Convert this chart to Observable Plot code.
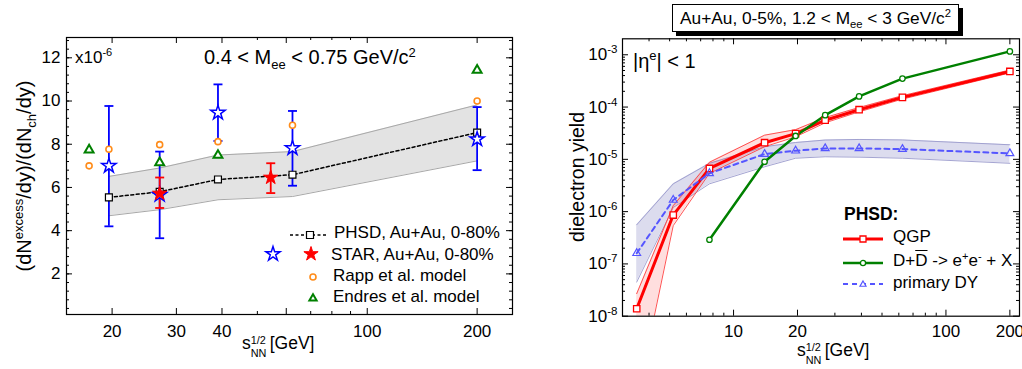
<!DOCTYPE html>
<html><head><meta charset="utf-8">
<script src="https://cdn.jsdelivr.net/npm/d3@7"></script>
<script src="https://cdn.jsdelivr.net/npm/@observablehq/plot@0.6"></script>
<style>
body{margin:0;background:#fff;}
#root{position:relative;width:1022px;height:369px;overflow:hidden;font-family:"Liberation Sans",Arial,sans-serif;color:#000;background:#fff;}
.pl{position:absolute;top:0;}
.t{position:absolute;white-space:nowrap;line-height:1;}
.sup{font-size:0.65em;position:relative;top:-0.6em;}
.sub{font-size:0.65em;position:relative;top:0.35em;}
.stk{display:inline-block;position:relative;width:1.3em;height:1em;font-size:0.62em;}
.stk span{position:absolute;left:0;line-height:1;}
.sw{position:absolute;overflow:visible;}
</style></head><body><div id="root"></div>
<script>
// ---------------- Left panel data ----------------
const leftEnergy   = [19.6, 27, 39, 62.4, 200];
const phsdYield    = [5.54, 5.8, 6.37, 6.59, 8.54];
const phsdLow      = [4.69, 4.97, 5.43, 5.58, 7.23];
const phsdHigh     = [6.51, 6.9, 7.5, 7.66, 9.82];
const starBesYield = [7.0, 5.66, 9.46, 7.82, 8.23];
const starBesLow   = [4.2, 3.65, 8.15, 6.08, 6.8];
const starBesHigh  = [9.77, 7.66, 10.77, 9.54, 9.72];
const starNewEnergy = [27, 54.4];
const starNewYield  = [5.72, 6.46];
const starNewLow    = [5.05, 5.74];
const starNewHigh   = [6.46, 7.12];
const rappEnergy   = [17.3, 19.6, 27, 39, 62.4, 200];
const rappYield    = [7.0, 7.77, 7.98, 8.12, 8.88, 10.0];
const endresEnergy = [17.3, 27, 39, 200];
const endresYield  = [7.74, 7.15, 7.49, 11.43];
const leftXTicks   = [20, 30, 40, 60, 100, 200];
const leftXMinor   = [50, 70, 80, 90];
const leftYTicks   = [2, 4, 6, 8, 10, 12];

// ---------------- Right panel data ----------------
const rightEnergy = [3.5, 5.2, 7.7, 14, 19.6, 27, 39, 62.4, 200];
const qgpYield = [1.39e-8, 8.6e-7, 6.7e-6, 2.08e-5, 3.1e-5, 5.6e-5, 8.9e-5, 1.53e-4, 4.8e-4];
const qgpHigh  = [2.7e-8, 1.3e-6, 8.8e-6, 2.9e-5, 3.7e-5, 6.3e-5, 9.8e-5, 1.65e-4, 5.1e-4];
const qgpLow   = [2.5e-10, 5.4e-7, 5.4e-6, 1.74e-5, 2.7e-5, 5.0e-5, 8.1e-5, 1.42e-4, 4.5e-4];
const dyYield  = [1.6e-7, 1.67e-6, 5.4e-6, 1.26e-5, 1.46e-5, 1.62e-5, 1.62e-5, 1.57e-5, 1.3e-5];
const dyHigh   = [5.6e-7, 3.4e-6, 8.4e-6, 1.74e-5, 2.1e-5, 2.34e-5, 2.4e-5, 2.35e-5, 1.9e-5];
const dyLow    = [4.5e-8, 1.2e-6, 3.4e-6, 7.2e-6, 1.05e-5, 1.12e-5, 1.1e-5, 1.05e-5, 8.4e-6];
const charmEnergy = [7.7, 14, 19.6, 27, 39, 62.4, 200];
const charmYield  = [2.9e-7, 9.0e-6, 2.8e-5, 7.0e-5, 1.6e-4, 3.5e-4, 1.16e-3];
const rightXTicks = [10, 20, 100, 200];
const rightXMinor = [4, 5, 6, 7, 8, 9, 30, 40, 50, 60, 70, 80, 90];
const rightYTicks = [1e-8, 1e-7, 1e-6, 1e-5, 1e-4, 1e-3];

// ---------------- helpers ----------------
const root = document.getElementById("root");
const FONT = "Liberation Sans, Arial, sans-serif";
const cap = {draw(ctx){ ctx.moveTo(-4.5, 0); ctx.lineTo(4.5, 0); }};
function text(html, left, top, size, extra = "") {
  const d = document.createElement("div");
  d.className = "t";
  d.style.cssText = `left:${left}px;top:${top}px;font-size:${size}px;${extra}`;
  d.innerHTML = html;
  root.appendChild(d);
  return d;
}
function swatch(svgInner, left, top, w, h) {
  const d = document.createElement("div");
  d.className = "sw";
  d.style.cssText = `left:${left}px;top:${top}px;width:${w}px;height:${h}px;`;
  d.innerHTML = `<svg width="${w}" height="${h}" style="overflow:visible">${svgInner}</svg>`;
  root.appendChild(d);
}
function ticksXY(IW, IH, xMajor, xMinor, yMajor, yMinor, L = 6, l = 3) {
  const st = {stroke: "#000", strokeWidth: 1};
  return [
    Plot.tickX(xMajor, {...st, insetTop: IH - L}),
    Plot.tickX(xMajor, {...st, insetBottom: IH - L}),
    Plot.tickX(xMinor, {...st, insetTop: IH - l}),
    Plot.tickX(xMinor, {...st, insetBottom: IH - l}),
    Plot.tickY(yMajor, {...st, insetRight: IW - L}),
    Plot.tickY(yMajor, {...st, insetLeft: IW - L}),
    Plot.tickY(yMinor, {...st, insetRight: IW - l}),
    Plot.tickY(yMinor, {...st, insetLeft: IW - l})
  ];
}

// ---------------- Left panel ----------------
const LW = 520, LH = 369, LML = 66, LMR = 8, LMT = 37, LMB = 55;
const phsd = leftEnergy.map((e, i) => ({e, y: phsdYield[i], lo: phsdLow[i], hi: phsdHigh[i]}));
const bes = leftEnergy.map((e, i) => ({e, y: starBesYield[i], lo: starBesLow[i], hi: starBesHigh[i]}));
const starNew = starNewEnergy.map((e, i) => ({e, y: starNewYield[i], lo: starNewLow[i], hi: starNewHigh[i]}));
const rapp = rappEnergy.map((e, i) => ({e, y: rappYield[i]}));
const endres = endresEnergy.map((e, i) => ({e, y: endresYield[i]}));
const leftYMinor = d3.range(0.4, 12.9, 0.4);

const left = Plot.plot({
  width: LW, height: LH, marginLeft: LML, marginRight: LMR, marginTop: LMT, marginBottom: LMB,
  style: {fontFamily: FONT, fontSize: "17px", background: "transparent", overflow: "visible"},
  x: {type: "log", domain: [15, 250]},
  y: {domain: [0.12, 12.94]},
  marks: [
    Plot.areaY(phsd, {x: "e", y1: "lo", y2: "hi", fill: "#e3e3e3"}),
    Plot.line(phsd, {x: "e", y: "lo", stroke: "#a8a8a8", strokeWidth: 1}),
    Plot.line(phsd, {x: "e", y: "hi", stroke: "#a8a8a8", strokeWidth: 1}),
    Plot.line(phsd, {x: "e", y: "y", stroke: "#000", strokeWidth: 1.5, strokeDasharray: "3,2.5"}),
    Plot.ruleX(bes, {x: "e", y1: "lo", y2: "hi", stroke: "#0000ff", strokeWidth: 1.8}),
    Plot.dot(bes, {x: "e", y: "lo", symbol: cap, fill: "none", stroke: "#0000ff", strokeWidth: 1.8}),
    Plot.dot(bes, {x: "e", y: "hi", symbol: cap, fill: "none", stroke: "#0000ff", strokeWidth: 1.8}),
    Plot.ruleX(starNew, {x: "e", y1: "lo", y2: "hi", stroke: "#ff0000", strokeWidth: 1.8}),
    Plot.dot(starNew, {x: "e", y: "lo", symbol: cap, fill: "none", stroke: "#ff0000", strokeWidth: 1.8}),
    Plot.dot(starNew, {x: "e", y: "hi", symbol: cap, fill: "none", stroke: "#ff0000", strokeWidth: 1.8}),
    Plot.dot(phsd, {x: "e", y: "y", symbol: "square", r: 3.9, fill: "#fff", stroke: "#000", strokeWidth: 1.2}),
    Plot.dot(rapp, {x: "e", y: "y", symbol: "circle", r: 3, fill: "#fff", stroke: "#ff8c1a", strokeWidth: 1.6}),
    Plot.dot(endres, {x: "e", y: "y", symbol: "triangle", r: 3.3, fill: "#fff", stroke: "#008000", strokeWidth: 2}),
    Plot.dot(bes, {x: "e", y: "y", symbol: "star", r: 4.5, fill: "#fff", stroke: "#0000ff", strokeWidth: 1.5}),
    Plot.dot(starNew, {x: "e", y: "y", symbol: "star", r: 4.5, fill: "#ff0000", stroke: "#ff0000", strokeWidth: 1}),
    ...ticksXY(LW - LML - LMR, LH - LMT - LMB, leftXTicks, leftXMinor, leftYTicks, leftYMinor, 6, 3),
    Plot.axisX(leftXTicks, {anchor: "bottom", tickSize: 0, tickPadding: 10, label: null, tickFormat: d => String(d)}),
    Plot.axisY(leftYTicks, {anchor: "left", tickSize: 0, tickPadding: 6, label: null, tickFormat: d => String(d)}),
    Plot.frame({stroke: "#000", strokeWidth: 1.2})
  ]
});
const ld = document.createElement("div"); ld.className = "pl"; ld.style.left = "0px"; ld.appendChild(left); root.appendChild(ld);

// ---------------- Right panel ----------------
const RX = 520, RW = 502, RH = 369, RML = 102, RMR = 3, RMT = 38.3, RMB = 53.3;
const qgp = rightEnergy.map((e, i) => ({e, y: qgpYield[i], lo: qgpLow[i], hi: qgpHigh[i]}));
const dy = rightEnergy.map((e, i) => ({e, y: dyYield[i], lo: dyLow[i], hi: dyHigh[i]}));
const charm = charmEnergy.map((e, i) => ({e, y: charmYield[i]}));
const rightYMinor = [];
for (const dec of rightYTicks.slice(0, 5)) for (let k = 2; k <= 9; k++) rightYMinor.push(k * dec);

const right = Plot.plot({
  width: RW, height: RH, marginLeft: RML, marginRight: RMR, marginTop: RMT, marginBottom: RMB,
  style: {fontFamily: FONT, fontSize: "17px", background: "transparent", overflow: "visible"},
  x: {type: "log", domain: [3, 222]},
  y: {type: "log", domain: [1e-8, 2.02e-3]},
  marks: [
    Plot.areaY(dy, {x: "e", y1: "lo", y2: "hi", fill: "#dcdcee", clip: true}),
    Plot.line(dy, {x: "e", y: "lo", stroke: "#9a9acc", strokeWidth: 0.9, clip: true}),
    Plot.line(dy, {x: "e", y: "hi", stroke: "#9a9acc", strokeWidth: 0.9, clip: true}),
    Plot.areaY(qgp, {x: "e", y1: "lo", y2: "hi", fill: "#ff0000", fillOpacity: 0.13, clip: true}),
    Plot.line(qgp, {x: "e", y: "lo", stroke: "#ff4040", strokeWidth: 0.9, clip: true}),
    Plot.line(qgp, {x: "e", y: "hi", stroke: "#ff4040", strokeWidth: 0.9, clip: true}),
    Plot.line(qgp, {x: "e", y: "y", stroke: "#ff0000", strokeWidth: 3, clip: true}),
    Plot.line(dy, {x: "e", y: "y", stroke: "#5555ff", strokeWidth: 2, strokeDasharray: "5,4", clip: true}),
    Plot.line(charm, {x: "e", y: "y", stroke: "#008000", strokeWidth: 2.5, clip: true}),
    Plot.dot(qgp, {x: "e", y: "y", symbol: "square", r: 3.6, fill: "#fff", stroke: "#ff0000", strokeWidth: 1.3}),
    Plot.dot(dy, {x: "e", y: "y", symbol: "triangle", r: 2.9, fill: "none", stroke: "#5555ff", strokeWidth: 1.2}),
    Plot.dot(charm, {x: "e", y: "y", symbol: "circle", r: 2.7, fill: "#fff", stroke: "#008000", strokeWidth: 1.3}),
    ...ticksXY(RW - RML - RMR, RH - RMT - RMB, rightXTicks, rightXMinor, rightYTicks, rightYMinor, 6, 3),
    Plot.axisX(rightXTicks, {anchor: "bottom", tickSize: 0, tickPadding: 9, label: null, tickFormat: d => String(d)}),
    Plot.axisY(rightYTicks, {anchor: "left", tickSize: 0, tickPadding: 5, label: null, tickFormat: d => "10^" + Math.round(Math.log10(d))}),
    Plot.frame({stroke: "#000", strokeWidth: 1.2})
  ]
});
d3.select(right).selectAll("text").each(function () {
  const m = this.textContent.match(/^10\^(-?\d+)$/);
  if (m) {
    const s = d3.select(this);
    s.text("10");
    s.append("tspan").attr("dy", "-0.6em").attr("font-size", "0.68em").text(m[1]);
  }
});
const rd = document.createElement("div"); rd.className = "pl"; rd.style.left = RX + "px"; rd.appendChild(right); root.appendChild(rd);

// ---------------- Left panel texts ----------------
const F = 17;
text(`x10<span class="sup">-6</span>`, 75, 63.3 - 0.85 * F, F);
text(`0.4 &lt; M<span class="sub">ee</span> &lt; 0.75 GeV/c<span class="sup">2</span>`, 204, 64.3 - 0.85 * 20, 20);
text(`(dN<span class="sup">excess</span>/dy)/(dN<span class="sub">ch</span>/dy)`, 24, 176, 20,
  "transform:translate(-50%,-50%) rotate(-90deg);");
text(`s<span class="stk"><span style="top:-0.3em">1/2</span><span style="top:0.85em">NN</span></span> [GeV]`, 242, 350 - 0.85 * 17.5, 17.5);

// left legend
const starPath = d3.symbol(d3.symbolStar, 63)();
const sqPath = d3.symbol(d3.symbolSquare, 49)();
const triPath = d3.symbol(d3.symbolTriangle2, 38)();
swatch(`<line x1="0" y1="6" x2="37" y2="6" stroke="#000" stroke-width="1.5" stroke-dasharray="3,2.5"/><path d="${sqPath}" transform="translate(20,6)" fill="#fff" stroke="#000" stroke-width="1.2"/>`, 290, 232.7 - 6, 40, 12);
swatch(`<path d="${starPath}" transform="translate(8,8)" fill="#fff" stroke="#0000ff" stroke-width="1.5"/>`, 273 - 8, 254 - 8, 16, 16);
swatch(`<path d="${starPath}" transform="translate(8,8)" fill="#ff0000" stroke="#ff0000"/>`, 311 - 8, 254 - 8, 16, 16);
swatch(`<circle cx="6" cy="6" r="3" fill="#fff" stroke="#ff8c1a" stroke-width="1.6"/>`, 313 - 6, 275 - 6, 12, 12);
swatch(`<path d="${triPath}" transform="translate(6,6.5)" fill="#fff" stroke="#008000" stroke-width="2"/>`, 313 - 6, 296 - 6, 12, 12);
text(`PHSD, Au+Au, 0-80%`, 334, 232.7 - 0.49 * F, F);
text(`STAR, Au+Au, 0-80%`, 331, 254 - 0.49 * F, F);
text(`Rapp et al. model`, 333, 275 - 0.49 * F, F);
text(`Endres et al. model`, 333, 296 - 0.49 * F, F);

// ---------------- Right panel texts ----------------
text(`Au+Au, 0-5%, 1.2 &lt; M<span class="sub">ee</span> &lt; 3 GeV/c<span class="sup">2</span>`, 672, 4, 17.3,
  "width:287px;height:28px;box-sizing:border-box;border:1px solid #000;box-shadow:4px 4px 0 #000;background:#fff;text-align:center;line-height:26px;");
text(`|&eta;<span class="sup">e</span>| &lt; 1`, 633, 68 - 0.85 * 20, 20);
text(`dielectron yield`, 578, 177, 19.5, "transform:translate(-50%,-50%) rotate(-90deg);");
text(`s<span class="stk"><span style="top:-0.3em">1/2</span><span style="top:0.85em">NN</span></span> [GeV]`, 797, 357 - 0.85 * 17.5, 17.5);

const RF = 17;
text(`PHSD:`, 844, 214 - 0.49 * RF, RF + 0.5, "font-weight:bold;");
swatch(`<line x1="0" y1="6" x2="40" y2="6" stroke="#ff0000" stroke-width="3"/><path d="${d3.symbol(d3.symbolSquare, 36)()}" transform="translate(20,6)" fill="#fff" stroke="#ff0000" stroke-width="1.3"/>`, 843, 236.7 - 6, 40, 12);
swatch(`<line x1="0" y1="6" x2="40" y2="6" stroke="#008000" stroke-width="2.5"/><circle cx="20" cy="6" r="2.6" fill="#fff" stroke="#008000" stroke-width="1.3"/>`, 843, 260.5 - 6, 40, 12);
swatch(`<line x1="0" y1="6" x2="40" y2="6" stroke="#5555ff" stroke-width="2" stroke-dasharray="5,4"/><path d="${d3.symbol(d3.symbolTriangle2, 26)()}" transform="translate(20,6.5)" fill="#fff" stroke="#5555ff" stroke-width="1.2"/>`, 843, 282.3 - 6, 40, 12);
text(`QGP`, 893, 236.7 - 0.49 * RF, RF);
text(`D+<span style="text-decoration:overline">D</span> -&gt; e<span class="sup">+</span>e<span class="sup">-</span> + X`, 893, 260.5 - 0.49 * RF, RF);
text(`primary DY`, 893, 282.3 - 0.49 * RF, RF);
</script></body></html>
